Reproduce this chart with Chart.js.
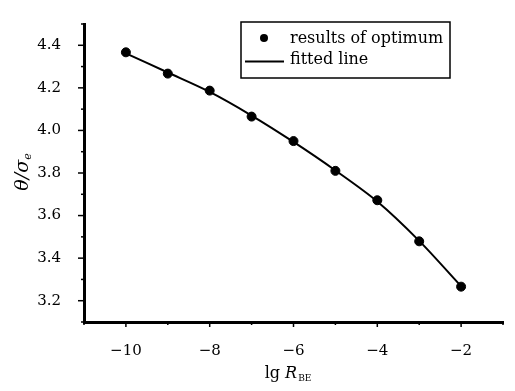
<!DOCTYPE html>
<html>
<head>
<meta charset="UTF-8">
<title>θ/σe vs lg R_BE</title>
<script src="https://cdn.jsdelivr.net/npm/chart.js"></script>
<style>
  html, body { margin: 0; padding: 0; background: #fff; }
  #wrap { width: 515px; height: 391px; }
</style>
</head>
<body>
<div id="wrap"><canvas id="grafico"></canvas></div>
<script>
// dados
var lgR = [-10, -9, -8, -7, -6, -5, -4, -3, -2];
var resultados = [4.367, 4.267, 4.187, 4.065, 3.950, 3.810, 3.672, 3.479, 3.266];
var ajuste = [4.362, 4.272, 4.181, 4.070, 3.946, 3.812, 3.666, 3.481, 3.268];
var xTicks = [-10, -8, -6, -4, -2];
var yTicks = ['3.2', '3.4', '3.6', '3.8', '4.0', '4.2', '4.4'];
var legendas = ['results of optimum', 'fitted line'];

var fonte = '"DejaVu Serif", serif';

function pontos(ys) {
    var out = [];
    for (var i = 0; i < lgR.length; i++) out.push({ x: lgR[i], y: ys[i] });
    return out;
}

// ticks maiores e menores desenhados a mao
var marcas = {
    id: 'marcas',
    afterDraw: function (chart) {
        var ctx = chart.ctx;
        var sx = chart.scales.x, sy = chart.scales.y;
        var area = chart.chartArea;
        ctx.save();
        ctx.strokeStyle = '#000';
        ctx.lineWidth = 1.5;
        sy.ticks.forEach(function (t) {
            var maior = yTicks.indexOf(t.value.toFixed(1)) != -1;
            var py = sy.getPixelForValue(t.value);
            ctx.beginPath();
            ctx.moveTo(area.left, py);
            ctx.lineTo(area.left - (maior ? 6 : 3), py);
            ctx.stroke();
        });
        sx.ticks.forEach(function (t) {
            var maior = xTicks.indexOf(Math.round(t.value)) != -1;
            var px = sx.getPixelForValue(t.value);
            ctx.beginPath();
            ctx.moveTo(px, area.bottom);
            ctx.lineTo(px, area.bottom + (maior ? 5 : 3));
            ctx.stroke();
        });

        // titulo eixo x: lg R_BE
        ctx.fillStyle = '#000';
        ctx.textBaseline = 'alphabetic';
        ctx.textAlign = 'left';
        var cx = (area.left + area.right) / 2 - 6;
        ctx.font = '16px ' + fonte;
        var w1 = ctx.measureText('lg ').width;
        ctx.font = 'italic 16px ' + fonte;
        var w2 = ctx.measureText('R').width;
        ctx.font = '9px ' + fonte;
        var w3 = ctx.measureText('BE').width;
        var x0 = cx - (w1 + w2 + w3) / 2;
        ctx.font = '16px ' + fonte;
        ctx.fillText('lg ', x0, 378);
        ctx.font = 'italic 16px ' + fonte;
        ctx.fillText('R', x0 + w1, 378);
        ctx.font = '9px ' + fonte;
        ctx.fillText('BE', x0 + w1 + w2 + 1, 381);

        // titulo eixo y: θ/σe
        ctx.translate(28, 172);
        ctx.rotate(-Math.PI / 2);
        ctx.font = 'italic 19px ' + fonte;
        var a = ctx.measureText('θ/σ').width;
        ctx.font = 'italic 11px ' + fonte;
        var b = ctx.measureText('e').width;
        ctx.font = 'italic 19px ' + fonte;
        ctx.fillText('θ/σ', -(a + b) / 2, 0);
        ctx.font = 'italic 11px ' + fonte;
        ctx.fillText('e', -(a + b) / 2 + a, 3);
        ctx.restore();
    }
};

// caixa da legenda dentro do grafico
var legendaBox = {
    id: 'legendaBox',
    afterDraw: function (chart) {
        var ctx = chart.ctx;
        ctx.save();
        ctx.strokeStyle = '#000';
        ctx.lineWidth = 1.5;
        ctx.strokeRect(241, 22, 209, 56);
        ctx.fillStyle = '#000';
        ctx.beginPath();
        ctx.arc(264, 38, 4, 0, Math.PI * 2);
        ctx.fill();
        ctx.lineWidth = 2;
        ctx.beginPath();
        ctx.moveTo(245, 61.5);
        ctx.lineTo(284, 61.5);
        ctx.stroke();
        ctx.font = '16px ' + fonte;
        ctx.textAlign = 'left';
        ctx.textBaseline = 'alphabetic';
        ctx.fillText(legendas[0], 290, 43);
        ctx.fillText(legendas[1], 290, 64);
        ctx.restore();
    }
};

new Chart(document.getElementById('grafico'), {
    type: 'scatter',
    data: {
        datasets: [{
            label: legendas[0],
            data: pontos(resultados),
            showLine: false,
            pointRadius: 4.5,
            pointBackgroundColor: '#000',
            pointBorderColor: '#000',
            order: 1
        }, {
            label: legendas[1],
            data: pontos(ajuste),
            showLine: true,
            pointRadius: 0,
            borderColor: '#000',
            borderWidth: 2,
            tension: 0.3,
            order: 2
        }]
    },
    options: {
        responsive: true,
        maintainAspectRatio: false,
        animation: false,
        layout: { padding: { top: 8, right: 5, left: 0, bottom: 0 } },
        plugins: {
            legend: { display: false },
            tooltip: { enabled: false }
        },
        scales: {
            x: {
                type: 'linear',
                min: -11,
                max: -1,
                grid: { display: false },
                border: { display: true, color: '#000', width: 3 },
                afterFit: function (scale) { scale.height = 69; },
                ticks: {
                    stepSize: 1,
                    padding: 12,
                    color: '#000',
                    maxRotation: 0,
                    autoSkip: false,
                    font: { family: fonte, size: 15 },
                    callback: function (v) {
                        var r = Math.round(v);
                        return xTicks.indexOf(r) != -1 ? '\u2212' + Math.abs(r) : '';
                    }
                }
            },
            y: {
                type: 'linear',
                min: 3.1,
                max: 4.5,
                grid: { display: false },
                border: { display: true, color: '#000', width: 3 },
                afterFit: function (scale) { scale.width = 84; },
                ticks: {
                    stepSize: 0.1,
                    padding: 15,
                    color: '#000',
                    autoSkip: false,
                    font: { family: fonte, size: 15 },
                    callback: function (v) {
                        var s = Number(v).toFixed(1);
                        return yTicks.indexOf(s) != -1 ? s : '';
                    }
                }
            }
        }
    },
    plugins: [marcas, legendaBox]
});
</script>
</body>
</html>
